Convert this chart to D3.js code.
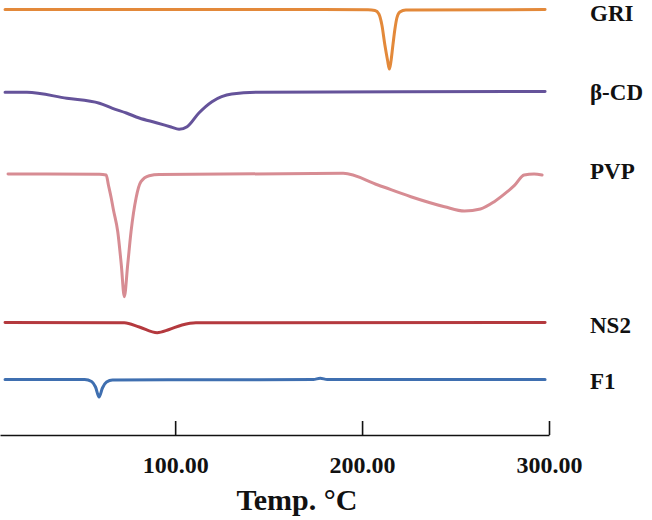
<!DOCTYPE html>
<html>
<head>
<meta charset="utf-8">
<script src="https://cdn.jsdelivr.net/npm/d3@7"></script>
<style>
  html, body { margin: 0; padding: 0; background: #fff; }
  svg { display: block; }
  text { font-family: "Liberation Serif", "Times New Roman", serif; font-weight: bold; fill: #111; }
</style>
</head>
<body>
<svg id="chart" width="652" height="520"></svg>
<script>
// Temperature (°C) and heat-flow (arbitrary units, stacked offsets)
const seriesNames = ["GRI", "β-CD", "PVP", "NS2", "F1"];
const seriesColors = ["#E3893A", "#65539A", "#D78C93", "#B4393E", "#3F6FB0"];
const labelLevels = [42.2, 34.3, 26.4, 11.0, 5.4];

const griT = [9, 166, 203.2, 206.9, 209.0, 210.6, 212.2, 213.6, 214.6, 215.4, 216.5, 217.5, 218.6, 220.2, 223.4, 297.9];
const griV = [42.55, 42.55, 42.52, 42.45, 42.1, 41.0, 39.0, 37.5, 36.6, 37.3, 39.0, 40.5, 41.7, 42.3, 42.5, 42.55];

const cdT = [9, 20.7, 42, 59.5, 66.5, 73.9, 80.8, 89.9, 97.8, 102.1, 106.4, 112.7, 119.7, 130.3, 144.7, 297.9];
const cdV = [34.27, 34.27, 33.67, 33.17, 32.67, 32.2, 31.7, 31.23, 30.8, 30.57, 30.83, 32.2, 33.33, 34.1, 34.27, 34.35];

const pvpT = [10.6, 59.5, 63.1, 64.3, 65.8, 67, 69.3, 71.2, 72.8, 74.6, 76.4, 79.1, 81.7, 86.1, 91.5, 189.9, 208.5, 226.1, 244.1, 254.8, 263.3, 270.7, 277.7, 281.4, 286.7, 292, 296.3];
const pvpV = [26.1, 26.07, 26.0, 25.0, 23.7, 22.5, 20.33, 17.0, 13.83, 17.0, 20.33, 23.7, 25.33, 25.93, 26.05, 26.17, 25.0, 23.83, 22.83, 22.4, 22.6, 23.33, 24.33, 24.93, 26.0, 26.1, 26.0];

const ns2T = [9, 72.8, 80.8, 90.4, 96.8, 103.7, 111.1, 297.9];
const ns2V = [11.25, 11.23, 10.8, 10.23, 10.55, 11.0, 11.23, 11.25];

const f1T = [9, 51.6, 55.3, 57.4, 59.3, 61.1, 63.3, 66.5, 173.9, 177.6, 181.4, 297.9];
const f1V = [5.55, 5.55, 5.35, 4.8, 3.8, 4.7, 5.3, 5.5, 5.55, 5.67, 5.55, 5.55];

const xTicks = [100, 200, 300];
const xTickLabels = ["100.00", "200.00", "300.00"];
const xTitle = "Temp. °C";

const seriesT = [griT, cdT, pvpT, ns2T, f1T];
const seriesV = [griV, cdV, pvpV, ns2V, f1V];

const svg = d3.select("#chart");
const x = d3.scaleLinear().domain([6.3, 300]).range([0, 549]);
const y = d3.scaleLinear().domain([0, 43.5]).range([435, 0]);

const line = d3.line()
  .x(d => x(d[0]))
  .y(d => y(d[1]))
  .curve(d3.curveMonotoneX);

seriesNames.forEach((name, i) => {
  const pts = seriesT[i].map((t, j) => [t, seriesV[i][j]]);
  svg.append("path")
    .datum(pts)
    .attr("fill", "none")
    .attr("stroke", seriesColors[i])
    .attr("stroke-width", 3)
    .attr("stroke-linejoin", "round")
    .attr("stroke-linecap", "round")
    .attr("d", line);
  svg.append("text")
    .attr("x", 590)
    .attr("y", y(labelLevels[i]))
    .attr("dy", "0.35em")
    .attr("font-size", 23)
    .text(name);
});

const axis = d3.axisTop(x)
  .tickValues(xTicks)
  .tickSize(14)
  .tickSizeOuter(0)
  .tickFormat((d, i) => xTickLabels[i]);

const gx = svg.append("g")
  .attr("transform", `translate(0,${y(0)})`)
  .call(axis);
gx.select(".domain").attr("stroke", "#111").attr("stroke-width", 1.6);
gx.selectAll(".tick line").attr("stroke", "#111").attr("stroke-width", 1.6);
gx.selectAll(".tick text")
  .attr("y", 38)
  .attr("dy", 0)
  .attr("font-size", 24)
  .attr("fill", "#111")
  .style("font-family", "'Liberation Serif', serif")
  .style("font-weight", "bold");

svg.append("text")
  .attr("x", 297)
  .attr("y", 510)
  .attr("text-anchor", "middle")
  .attr("font-size", 30)
  .text(xTitle);
</script>
</body>
</html>
